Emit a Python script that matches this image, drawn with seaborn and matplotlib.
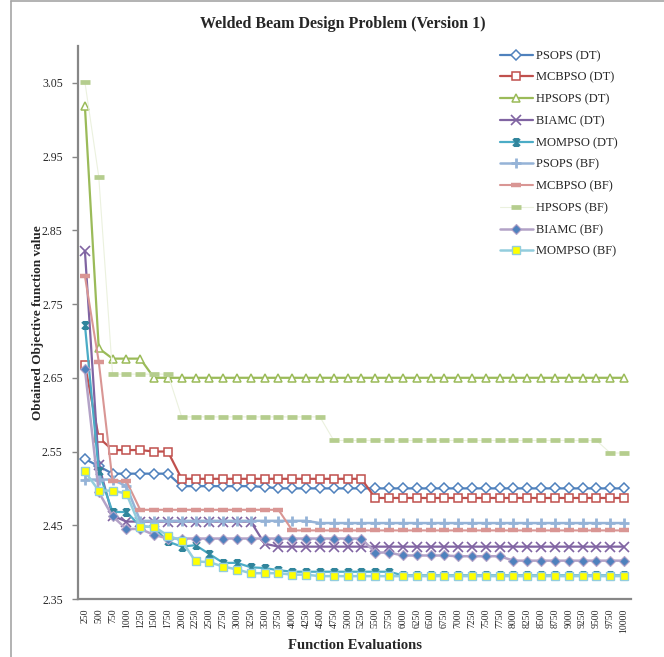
import numpy as np
import pandas as pd
import matplotlib
matplotlib.use("Agg")
import matplotlib.pyplot as plt
from matplotlib.path import Path
from matplotlib.lines import Line2D
import seaborn as sns

sns.set_style("white")
plt.rcParams["font.family"] = ["Liberation Serif", "DejaVu Serif"]

# Function evaluation checkpoints (category axis)
evals = [250, 500, 750, 1000, 1250, 1500, 1750, 2000, 2250, 2500,
         2750, 3000, 3250, 3500, 3750, 4000, 4250, 4500, 4750, 5000,
         5250, 5500, 5750, 6000, 6250, 6500, 6750, 7000, 7250, 7500,
         7750, 8000, 8250, 8500, 8750, 9000, 9250, 9500, 9750, 10000]

psops_dt = [2.540, 2.530] + [2.520] * 5 + [2.503] * 6 + [2.502] + [2.500] * 26
mcbpso_dt = [2.668, 2.569, 2.552, 2.552, 2.552, 2.550, 2.550] + [2.513] * 14 + [2.487] * 19
hpsops_dt = [3.018, 2.690, 2.676, 2.676, 2.676] + [2.650] * 35
biamc_dt = [2.822, 2.532, 2.463, 2.455] + [2.455] * 9 + [2.425] + [2.421] * 26
mompso_dt = [2.722, 2.523, 2.468, 2.468, 2.449, 2.447, 2.428, 2.421, 2.423, 2.411,
             2.399, 2.399, 2.393, 2.392, 2.389] + [2.387] * 8 + [2.382] * 17

psops_bf = [2.512, 2.512, 2.512, 2.503] + [2.456] * 13 + [2.453] * 23
mcbpso_bf = [2.788, 2.672, 2.510, 2.510] + [2.471] * 11 + [2.443] * 25
hpsops_bf = [3.051, 2.923] + [2.655] * 5 + [2.597] * 11 + [2.565] * 20 + [2.548] * 2
biamc_bf = [2.662, 2.495, 2.462, 2.445, 2.445, 2.437] + [2.432] * 15 + [2.413] * 2 \
    + [2.409] * 4 + [2.408] * 4 + [2.402] * 9
mompso_bf = [2.523, 2.497, 2.497, 2.493, 2.448, 2.448, 2.436, 2.429, 2.401, 2.400,
             2.394, 2.390, 2.385, 2.385, 2.385, 2.383, 2.383] + [2.381] * 23

y_ticks = [2.35, 2.45, 2.55, 2.65, 2.75, 2.85, 2.95, 3.05]

# Asterisk-style marker with caps, as used for MOMPSO (DT)
star_marker = Path(
    [(-1, -1), (1, 1), (-1, 1), (1, -1), (0, -1), (0, 1),
     (-0.7, 1), (0.7, 1), (-0.7, -1), (0.7, -1)],
    [Path.MOVETO, Path.LINETO, Path.MOVETO, Path.LINETO, Path.MOVETO, Path.LINETO,
     Path.MOVETO, Path.LINETO, Path.MOVETO, Path.LINETO])

series = [
    ("PSOPS (DT)", psops_dt, dict(color="#4F81BD", lw=1.6, marker="D", ms=5.5,
                                  mfc="white", mec="#4F81BD", mew=1.1)),
    ("MCBPSO (DT)", mcbpso_dt, dict(color="#C0504D", lw=1.6, marker="s", ms=6,
                                    mfc="white", mec="#C0504D", mew=1.1)),
    ("HPSOPS (DT)", hpsops_dt, dict(color="#9BBB59", lw=1.6, marker="^", ms=6,
                                    mfc="white", mec="#9BBB59", mew=1.1)),
    ("BIAMC (DT)", biamc_dt, dict(color="#8064A2", lw=1.6, marker="x", ms=6.5,
                                  mec="#8064A2", mew=1.2)),
    ("MOMPSO (DT)", mompso_dt, dict(color="#4BACC6", lw=1.6, marker=star_marker, ms=5,
                                    mec="#31859C", mew=1.5)),
    ("PSOPS (BF)", psops_bf, dict(color="#95B3D7", lw=1.8, marker="+", ms=7.5,
                                  mec="#95B3D7", mew=2.0)),
    ("MCBPSO (BF)", mcbpso_bf, dict(color="#D99694", lw=1.5, marker="_", ms=6.5,
                                    mec="#D99694", mew=3.2)),
    ("HPSOPS (BF)", hpsops_bf, dict(color="#EBF1DE", lw=0.8, marker="_", ms=7.5,
                                    mec="#B5CD8E", mew=3.4)),
    ("BIAMC (BF)", biamc_bf, dict(color="#B3A2C7", lw=1.8, marker="D", ms=5.5,
                                  mfc="#4F81BD", mec="#B3A2C7", mew=0.8)),
    ("MOMPSO (BF)", mompso_bf, dict(color="#93CDDD", lw=1.8, marker="s", ms=6,
                                    mfc="#FFFF00", mec="#93CDDD", mew=1.0)),
]

fig = plt.figure(figsize=(6.64, 6.57), dpi=100)
ax = fig.add_axes([78 / 664, 1 - 599 / 657, (631 - 78) / 664, (599 - 46) / 657])

pos = np.arange(len(evals))
for name, vals, style in series:
    df = pd.DataFrame({"pos": pos, "value": vals})
    sns.lineplot(data=df, x="pos", y="value", ax=ax, sort=False,
                 estimator=None, label=name, **style)

if ax.get_legend() is not None:
    ax.get_legend().remove()

ax.set_xlim(-0.5, len(evals) - 0.5)
ax.set_ylim(2.35, 3.1)
ax.set_yticks(y_ticks)
ax.set_yticklabels([f"{v:.2f}" for v in y_ticks])
ax.set_xticks(pos)
ax.set_xticklabels([str(e) for e in evals], rotation=90, fontsize=7)
ax.tick_params(axis="x", length=0, pad=7)
ax.tick_params(axis="y", length=4, width=1, color="#878787", pad=7, labelsize=8.5,
               left=True, direction="out")

for side in ["top", "right"]:
    ax.spines[side].set_visible(False)
for side in ["left", "bottom"]:
    ax.spines[side].set_color("#878787")
    ax.spines[side].set_linewidth(1.6)

ax.set_xlabel("Function Evaluations", fontsize=10.5, fontweight="bold", labelpad=4)
ax.set_ylabel("Obtained Objective function value", fontsize=9.5, fontweight="bold")
ax.yaxis.set_label_coords(-0.062, 0.5)

fig.text(343 / 664, 1 - 24 / 657, "Welded Beam Design Problem (Version 1)",
         ha="center", va="center", fontsize=11.5, fontweight="bold")

handles, labels = ax.get_legend_handles_labels()
fig.legend(handles, labels, loc="upper left", bbox_to_anchor=(500 / 664, 1 - 50 / 657),
           frameon=False, fontsize=9, handlelength=2.6, handletextpad=0.3,
           labelspacing=0.78, borderpad=0, borderaxespad=0, numpoints=1)

# Chart frame edges
fig.add_artist(Line2D([11 / 664, 1], [1 - 1 / 657, 1 - 1 / 657], color="#A6A6A6", lw=1.2,
                      transform=fig.transFigure))
fig.add_artist(Line2D([11 / 664, 11 / 664], [0, 1 - 1 / 657], color="#A6A6A6", lw=1.2,
                      transform=fig.transFigure))

fig.savefig("out.png", dpi=100, facecolor="white")
